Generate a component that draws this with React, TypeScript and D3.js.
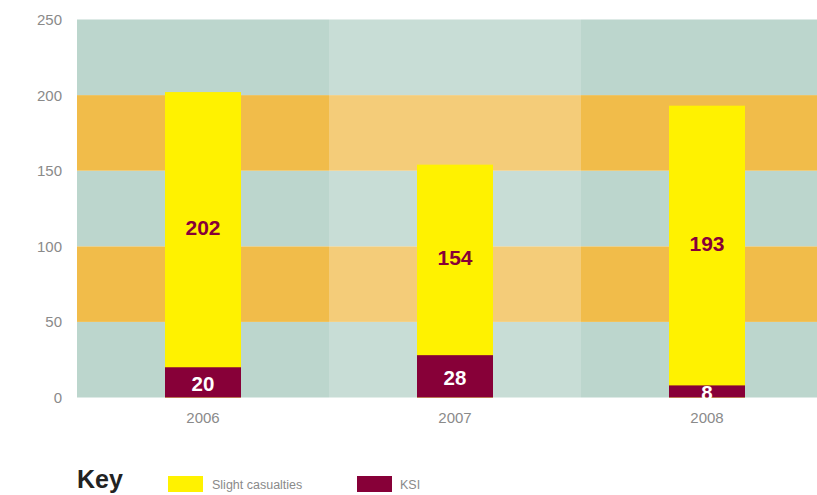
import React from "react";
import * as d3 from "d3";

const years = ["2006", "2007", "2008"];
const slight = [202, 154, 193];
const ksi = [20, 28, 8];
const yTicks = [0, 50, 100, 150, 200, 250];
const bandRows = [0, 50, 100, 150, 200];

export default function App() {
  const W = 817, H = 495;
  const left = 77, top = 19.5, bottom = 397.5;
  const bw = 252;
  const x = d3.scaleBand<string>().domain(years).range([left, left + bw * 3]).paddingInner(0).paddingOuter(0);
  const y = d3.scaleLinear().domain([0, 250]).range([bottom, top]);
  const barW = 76;
  const font = "'Liberation Sans', Arial, Helvetica, sans-serif";
  const teal = ["#bcd6cd", "#c8ddd6"];
  const orange = ["#f1bc4a", "#f4cc79"];
  return (
    <svg width={W} height={H} style={{ position: "absolute", left: 0, top: 0 }} fontFamily={font}>
      {years.map((yr, i) =>
        bandRows.map((r, j) => (
          <rect key={yr + r} x={x(yr)} y={y(r + 50)} width={x.bandwidth()} height={y(r) - y(r + 50)}
            fill={j % 2 === 0 ? teal[i === 1 ? 1 : 0] : orange[i === 1 ? 1 : 0]} />
        ))
      )}
      {yTicks.map((t) => (
        <text key={t} x={62} y={y(t)} dy="0.36em" textAnchor="end" fontSize={15} fill="#8a8a8a">{t}</text>
      ))}
      {years.map((yr, i) => {
        const cx = (x(yr) as number) + x.bandwidth() / 2;
        return (
          <g key={yr}>
            <rect x={cx - barW / 2} y={y(slight[i])} width={barW} height={y(0) - y(slight[i])} fill="#fff200" />
            <rect x={cx - barW / 2} y={y(ksi[i])} width={barW} height={y(0) - y(ksi[i])} fill="#870038" />
            <text x={cx} y={y((slight[i] + ksi[i]) / 2) - 2} dy="0.36em" textAnchor="middle" fontSize={21} fontWeight="bold" fill="#870038">{slight[i]}</text>
            <text x={cx} y={y(ksi[i] / 2) + 1.2} dy="0.36em" textAnchor="middle" fontSize={20.5} fontWeight="bold" fill="#ffffff">{ksi[i]}</text>
            <text x={cx} y={418} dy="0.36em" textAnchor="middle" fontSize={15} fill="#8a8a8a">{yr}</text>
          </g>
        );
      })}
      <text x={77} y={488} fontSize={25} fontWeight="bold" fill="#222">Key</text>
      <rect x={168} y={476} width={35} height={16} fill="#fff200" />
      <text x={212} y={489} fontSize={12.5} fill="#8a8a8a">Slight casualties</text>
      <rect x={357} y={476} width={35} height={16} fill="#870038" />
      <text x={400} y={489} fontSize={12.5} fill="#8a8a8a">KSI</text>
    </svg>
  );
}
